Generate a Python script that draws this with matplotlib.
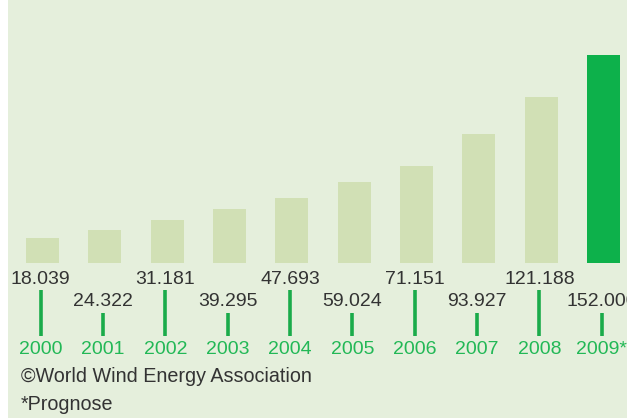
"""Weltweit installierte Windenergie-Leistung 2000-2009 (MW)."""

import matplotlib

matplotlib.use("Agg")

import matplotlib.pyplot as plt
from matplotlib.patches import Rectangle
from matplotlib.transforms import blended_transform_factory


years = ["2000", "2001", "2002", "2003", "2004", "2005", "2006", "2007", "2008", "2009*"]
values = [18.039, 24.322, 31.181, 39.295, 47.693, 59.024, 71.151, 93.927, 121.188, 152.000]
value_labels = ["18.039", "24.322", "31.181", "39.295", "47.693",
                "59.024", "71.151", "93.927", "121.188", "152.000"]
source_text = "\u00a9World Wind Energy Association"
note_text = "*Prognose"

BG = "#e5efdc"
BAR_LIGHT = "#d1e0b5"
BAR_DARK = "#0db14b"
TICK_GREEN = "#1aab4a"
YEAR_GREEN = "#22b856"
TEXT = "#333333"

W, H = 627, 418


def fy(px):
    # pixel row from top -> figure fraction
    return 1 - px / H


def main() -> None:
    plt.rcParams["font.family"] = ["Liberation Sans", "DejaVu Sans"]

    fig = plt.figure(figsize=(W / 100, H / 100), dpi=100, facecolor="white")
    fig.patches.append(Rectangle((8 / W, 0), 1 - 8 / W, 1, transform=fig.transFigure,
                                 facecolor=BG, edgecolor="none", zorder=0))

    # bar area: baseline at y=263 px, 152 units -> 208 px
    scale = 208 / 152.0
    spacing = 62.33
    x0 = 42.5
    ax = fig.add_axes([0, 0, 1, 1])
    ax.set_zorder(2)
    ax.set_facecolor("none")
    ax.set_xlim(-x0 / spacing, (W - x0) / spacing)
    ax.set_ylim(-(H - 263) / scale, 263 / scale)
    ax.axis("off")

    colors = [BAR_LIGHT] * (len(values) - 1) + [BAR_DARK]
    idx = list(range(len(values)))
    ax.bar(idx, values, width=33 / spacing, color=colors, zorder=2)

    # labels sit a touch left of the bar centres in the original
    dx = -1.8 / spacing
    tr = blended_transform_factory(ax.transData, fig.transFigure)
    for i, lab in enumerate(value_labels):
        xi = i + dx
        tall = i % 2 == 0
        ty = 279 if tall else 301
        ax.text(xi, fy(ty), lab, transform=tr, ha="center", va="center",
                fontsize=14, color=TEXT, clip_on=False)
        top = 290 if tall else 313
        ax.plot([xi, xi], [fy(top), fy(336)], transform=tr, color=TICK_GREEN,
                lw=2.6, solid_capstyle="butt")
        ax.text(xi, fy(349), years[i], transform=tr, ha="center", va="center",
                fontsize=14, color=YEAR_GREEN, clip_on=False)

    fig.text(21 / W, fy(376), source_text, ha="left", va="center",
             fontsize=14.2, color=TEXT)
    fig.text(21 / W, fy(404), note_text, ha="left", va="center",
             fontsize=14.2, color=TEXT)

    fig.savefig("out.png", dpi=100, facecolor="white")
    plt.close(fig)


if __name__ == "__main__":
    main()
